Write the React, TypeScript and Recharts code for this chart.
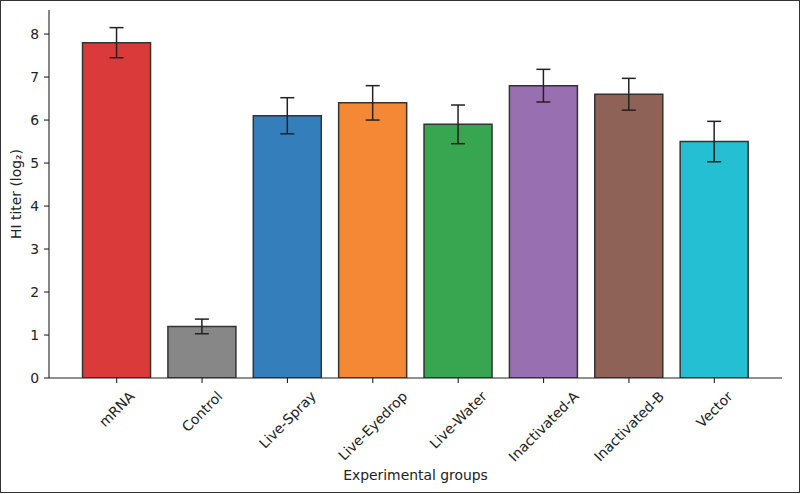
import React from 'react';
import { BarChart, Bar, XAxis, YAxis, ErrorBar, Cell } from 'recharts';

const groups = ['mRNA', 'Control', 'Live-Spray', 'Live-Eyedrop', 'Live-Water', 'Inactivated-A', 'Inactivated-B', 'Vector'];
const titers = [7.8, 1.2, 6.1, 6.4, 5.9, 6.8, 6.6, 5.5];
const errors = [0.35, 0.17, 0.42, 0.4, 0.45, 0.38, 0.37, 0.47];
const colors = ['#DA3B3A', '#878787', '#337EBB', '#F58835', '#38A651', '#986FB0', '#8E6257', '#25BFD3'];
const yTicks = [0, 1, 2, 3, 4, 5, 6, 7, 8];

const data = groups.map((g, i) => ({ group: g, titer: titers[i], err: errors[i] }));

const FONT = 'DejaVu Sans';
const FS = 13.9;
const TEXT = '#222222';

let ctx: CanvasRenderingContext2D | null = null;
function measure(s: string): number {
  if (!ctx) {
    const c = document.createElement('canvas');
    ctx = c.getContext('2d');
  }
  if (!ctx) return s.length * FS * 0.6;
  ctx.font = `${FS}px "${FONT}"`;
  return ctx.measureText(s).width;
}

const XTick = (props: any) => {
  const { x, y, payload } = props;
  const label = String(payload.value);
  const w = measure(label);
  const h = FS * 1.164;
  const d = (w + h) / Math.SQRT2 / 2;
  const cx = x;
  const cy = y + d;
  return (
    <text
      x={cx}
      y={cy}
      transform={`rotate(-45 ${cx} ${cy})`}
      textAnchor="middle"
      dominantBaseline="central"
      fontFamily={FONT}
      fontSize={FS}
      fill={TEXT}
    >
      {label}
    </text>
  );
};

const YLabel = (props: any) => {
  const vb = props.viewBox || { x: 0, y: 10, width: 49, height: 368 };
  const cx = vb.x + 16;
  const cy = vb.y + vb.height / 2;
  return (
    <text
      x={cx}
      y={cy}
      transform={`rotate(-90 ${cx} ${cy})`}
      textAnchor="middle"
      dominantBaseline="central"
      fontFamily={FONT}
      fontSize={FS}
      fill={TEXT}
    >
      HI titer (log₂)
    </text>
  );
};

const XLabel = (props: any) => {
  const vb = props.viewBox || { x: 49, y: 378, width: 733, height: 116 };
  const cx = vb.x + vb.width / 2;
  const cy = vb.y + 97;
  return (
    <text
      x={cx}
      y={cy}
      textAnchor="middle"
      dominantBaseline="central"
      fontFamily={FONT}
      fontSize={FS}
      fill={TEXT}
    >
      Experimental groups
    </text>
  );
};

export default function App() {
  return (
    <div style={{ position: 'fixed', left: 0, top: 0, width: 800, height: 494, background: '#fff' }}>
      <div
        style={{
          position: 'absolute',
          left: 0,
          top: 0,
          width: 800,
          height: 493,
          border: '1px solid #333',
          boxSizing: 'border-box',
        }}
      />
      <div style={{ position: 'absolute', left: 0, top: 0 }}>
        <BarChart
          width={800}
          height={494}
          data={data}
          margin={{ top: 10, right: 18, bottom: 0, left: 0 }}
          barCategoryGap="10%"
        >
          <XAxis
            dataKey="group"
            type="category"
            height={116}
            padding={{ left: 25, right: 25 }}
            axisLine={{ stroke: TEXT, strokeWidth: 1.1 }}
            tickLine={{ stroke: TEXT, strokeWidth: 1.1 }}
            tickSize={5}
            tickMargin={5}
            interval={0}
            tick={<XTick />}
            label={<XLabel />}
          />
          <YAxis
            type="number"
            domain={[0, 8.56]}
            ticks={yTicks}
            width={49}
            axisLine={{ stroke: TEXT, strokeWidth: 1.1 }}
            tickLine={{ stroke: TEXT, strokeWidth: 1.1 }}
            tickSize={5}
            tickMargin={5}
            tick={{ fontFamily: FONT, fontSize: FS, fill: TEXT }}
            allowDataOverflow
            label={<YLabel />}
          />
          <Bar dataKey="titer" stroke="#333" strokeWidth={1.5} isAnimationActive={false}>
            {data.map((d, i) => (
              <Cell key={d.group} fill={colors[i]} />
            ))}
            <ErrorBar dataKey="err" width={7} stroke="#222" strokeWidth={1.5} direction="y" />
          </Bar>
        </BarChart>
      </div>
    </div>
  );
}
